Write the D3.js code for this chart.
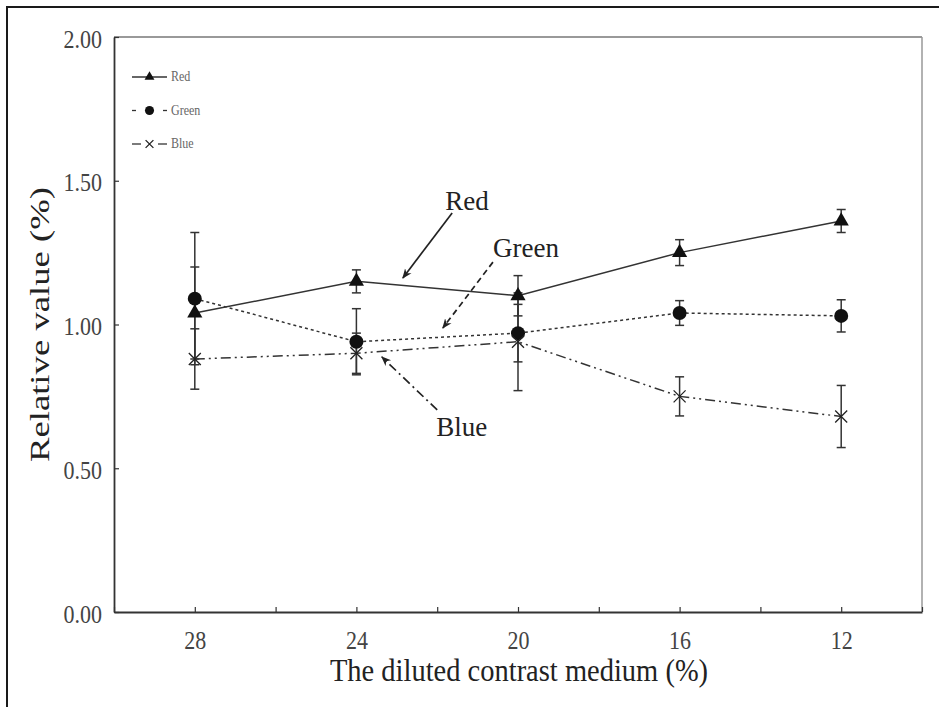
<!DOCTYPE html>
<html>
<head>
<meta charset="utf-8">
<script src="https://cdn.jsdelivr.net/npm/d3@7"></script>
<style>
  html, body { margin: 0; padding: 0; background: #fff; }
  svg { display: block; }
  text { font-family: "Liberation Serif", "Times New Roman", serif; }
</style>
</head>
<body>
<svg id="chart" width="939" height="707"></svg>
<script>
// ---------- data ----------
const categories = [28, 24, 20, 16, 12];
const xTickValues = [30, 28, 26, 24, 22, 20, 18, 16, 14, 12, 10];
const xTickLabels = ["", "28", "", "24", "", "20", "", "16", "", "12", ""];
const yTickValues = [0, 0.5, 1.0, 1.5, 2.0];
const yTickLabels = ["0.00", "0.50", "1.00", "1.50", "2.00"];

const redValues   = [1.04, 1.15, 1.10, 1.25, 1.36];
const redErrors   = [0.16, 0.04, 0.07, 0.045, 0.04];
const greenValues = [1.09, 0.94, 0.97, 1.04, 1.03];
const greenErrors = [0.23, 0.115, 0.10, 0.043, 0.056];
const blueValues  = [0.88, 0.90, 0.94, 0.75, 0.68];
const blueErrors  = [0.105, 0.07, 0.17, 0.068, 0.108];

const seriesNames = ["Red", "Green", "Blue"];
const xTitle = "The diluted contrast medium (%)";
const yTitle = "Relative value (%)";

// annotation anchors in data units: [textX, textY, arrowStartX, arrowStartY, arrowEndX, arrowEndY]
const annRed   = [21.26, 1.398, 21.63, 1.388, 22.85, 1.162];
const annGreen = [19.80, 1.235, 20.62, 1.217, 21.86, 0.988];
const annBlue  = [21.39, 0.612, 22.00, 0.703, 23.37, 0.887];

// ---------- chart ----------
const svg = d3.select("#chart");
const W = 939, H = 707;
const mLeft = 114, mRight = 922, mTop = 37, mBottom = 612;
const x = d3.scaleLinear().domain([30, 10]).range([mLeft, mRight]);
const y = d3.scaleLinear().domain([0, 2]).range([mBottom, mTop]);

// outer frame (top + left lines)
svg.append("line").attr("x1", 6).attr("x2", W).attr("y1", 7).attr("y2", 7)
  .attr("stroke", "#1a1a1a").attr("stroke-width", 2);
svg.append("line").attr("x1", 7).attr("x2", 7).attr("y1", 6).attr("y2", H)
  .attr("stroke", "#1a1a1a").attr("stroke-width", 2);

// plot border
svg.append("line").attr("x1", mLeft).attr("x2", mRight).attr("y1", mTop).attr("y2", mTop)
  .attr("stroke", "#777").attr("stroke-width", 1.5);
svg.append("line").attr("x1", mRight).attr("x2", mRight).attr("y1", mTop).attr("y2", mBottom)
  .attr("stroke", "#999").attr("stroke-width", 1.5);

// axes
const xAxis = d3.axisBottom(x).tickValues(xTickValues)
  .tickFormat((d, i) => xTickLabels[i]).tickSizeInner(-5).tickSizeOuter(0);
const gx = svg.append("g").attr("transform", `translate(0,${mBottom})`).call(xAxis);
gx.select(".domain").attr("stroke", "#333").attr("stroke-width", 1.8);
gx.selectAll(".tick line").attr("stroke", "#333").attr("stroke-width", 1.2);
gx.selectAll(".tick text").attr("font-size", 22).attr("fill", "#444")
  .attr("font-family", "Liberation Serif, serif")
  .attr("y", 0).attr("dy", null)
  .attr("transform", "translate(0,37) scale(1,1.15)");

const yAxis = d3.axisLeft(y).tickValues(yTickValues)
  .tickFormat((d, i) => yTickLabels[i]).tickSizeInner(-5).tickSizeOuter(0);
const gy = svg.append("g").attr("transform", `translate(${mLeft},0)`).call(yAxis);
gy.select(".domain").attr("stroke", "#333").attr("stroke-width", 1.8);
gy.selectAll(".tick line").attr("stroke", "#333").attr("stroke-width", 1.2);
gy.selectAll(".tick text").attr("font-size", 22).attr("fill", "#444")
  .attr("font-family", "Liberation Serif, serif")
  .attr("x", 0).attr("dy", null)
  .attr("transform", "translate(-12,10) scale(1,1.15)");

// axis titles
svg.append("text").attr("transform", `translate(${(mLeft + mRight) / 2 + 1},681) scale(1,1.12)`)
  .attr("text-anchor", "middle").attr("font-size", 28.5).attr("fill", "#222").text(xTitle);
svg.append("text").attr("transform", `translate(49,${(mTop + mBottom) / 2}) rotate(-90) scale(1.36,1)`)
  .attr("text-anchor", "middle").attr("font-size", 27).attr("fill", "#222").text(yTitle);

const lineColor = "#333";
const series = [
  { name: "Red", values: redValues, errors: redErrors, dash: null, marker: "triangle" },
  { name: "Green", values: greenValues, errors: greenErrors, dash: "3,3", marker: "circle" },
  { name: "Blue", values: blueValues, errors: blueErrors, dash: "10,4,2,4,2,4", marker: "x" }
];

const lineGen = d3.line().x(d => x(d.c)).y(d => y(d.v));

// lines
series.forEach(s => {
  const pts = categories.map((c, i) => ({ c, v: s.values[i], e: s.errors[i] }));
  svg.append("path").datum(pts).attr("d", lineGen).attr("fill", "none")
    .attr("stroke", lineColor).attr("stroke-width", 1.5)
    .attr("stroke-dasharray", s.dash);
});

// error bars
series.forEach(s => {
  const pts = categories.map((c, i) => ({ c, v: s.values[i], e: s.errors[i] }));
  const g = svg.append("g").attr("stroke", "#333").attr("stroke-width", 1.5);
  g.selectAll(".eb").data(pts).enter().append("line")
    .attr("x1", d => x(d.c)).attr("x2", d => x(d.c))
    .attr("y1", d => y(d.v + d.e)).attr("y2", d => y(d.v - d.e));
  g.selectAll(".capT").data(pts).enter().append("line")
    .attr("x1", d => x(d.c) - 4.5).attr("x2", d => x(d.c) + 4.5)
    .attr("y1", d => y(d.v + d.e)).attr("y2", d => y(d.v + d.e));
  g.selectAll(".capB").data(pts).enter().append("line")
    .attr("x1", d => x(d.c) - 4.5).attr("x2", d => x(d.c) + 4.5)
    .attr("y1", d => y(d.v - d.e)).attr("y2", d => y(d.v - d.e));
});

function drawMarker(g, type, cx, cy, scale) {
  const k = scale || 1;
  if (type === "triangle") {
    g.append("path").attr("transform", `translate(${cx},${cy})`)
      .attr("d", d3.symbol().type(d3.symbolTriangle).size(100 * k * k)()).attr("fill", "#111");
  } else if (type === "circle") {
    g.append("circle").attr("cx", cx).attr("cy", cy).attr("r", 7 * k).attr("fill", "#111");
  } else {
    const r = 6 * k;
    g.append("path").attr("d", `M${cx - r},${cy - r}L${cx + r},${cy + r}M${cx - r},${cy + r}L${cx + r},${cy - r}`)
      .attr("stroke", "#222").attr("stroke-width", 1.3).attr("fill", "none");
  }
}

// markers
series.forEach(s => {
  const g = svg.append("g");
  categories.forEach((c, i) => drawMarker(g, s.marker, x(c), y(s.values[i]), 1));
});

// legend
const legendX1 = 132, legendX2 = 167, legendY0 = 77, legendStep = 33.5;
series.forEach((s, i) => {
  const ly = legendY0 + i * legendStep;
  const g = svg.append("g");
  if (s.name === "Red") {
    g.append("line").attr("x1", legendX1).attr("x2", legendX2).attr("y1", ly).attr("y2", ly)
      .attr("stroke", lineColor).attr("stroke-width", 1.3);
  } else if (s.name === "Green") {
    g.append("line").attr("x1", legendX1).attr("x2", legendX1 + 4).attr("y1", ly).attr("y2", ly)
      .attr("stroke", lineColor).attr("stroke-width", 1.3);
    g.append("line").attr("x1", legendX2 - 4).attr("x2", legendX2).attr("y1", ly).attr("y2", ly)
      .attr("stroke", lineColor).attr("stroke-width", 1.3);
  } else {
    g.append("line").attr("x1", legendX1).attr("x2", legendX1 + 9).attr("y1", ly).attr("y2", ly)
      .attr("stroke", lineColor).attr("stroke-width", 1.3);
    g.append("line").attr("x1", legendX2 - 9).attr("x2", legendX2).attr("y1", ly).attr("y2", ly)
      .attr("stroke", lineColor).attr("stroke-width", 1.3);
  }
  drawMarker(g, s.marker, (legendX1 + legendX2) / 2, ly, 0.65);
  g.append("text").attr("transform", `translate(${legendX2 + 4},${ly + 4}) scale(1,1.15)`)
    .attr("font-size", 12).attr("fill", "#666").text(s.name);
});

// arrowhead marker
const defs = svg.append("defs");
defs.append("marker").attr("id", "arrow").attr("viewBox", "0 0 10 10")
  .attr("refX", 9).attr("refY", 5).attr("markerWidth", 10).attr("markerHeight", 10)
  .attr("markerUnits", "userSpaceOnUse").attr("orient", "auto")
  .append("path").attr("d", "M0,1 L10,5 L0,9 L3,5 Z").attr("fill", "#222");

// annotations
[[annRed, "Red", null], [annGreen, "Green", "6,4"], [annBlue, "Blue", "9,4,2,4"]].forEach(([a, label, dash]) => {
  svg.append("text").attr("x", x(a[0])).attr("y", y(a[1])).attr("text-anchor", "middle")
    .attr("font-size", 27).attr("fill", "#222").text(label);
  svg.append("line").attr("x1", x(a[2])).attr("y1", y(a[3])).attr("x2", x(a[4])).attr("y2", y(a[5]))
    .attr("stroke", "#222").attr("stroke-width", 1.7).attr("stroke-dasharray", dash)
    .attr("marker-end", "url(#arrow)");
});
</script>
</body>
</html>
